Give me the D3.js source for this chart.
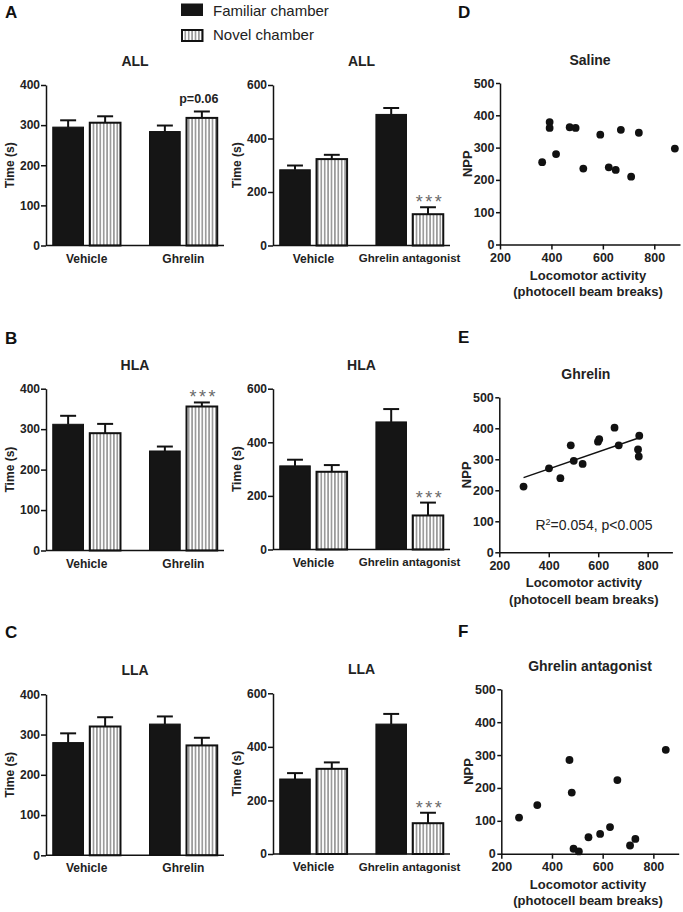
<!DOCTYPE html>
<html><head><meta charset="utf-8">
<script src="https://cdn.jsdelivr.net/npm/d3@7"></script>
<style>
body{margin:0;background:#fff}
svg{display:block}
text{font-family:"Liberation Sans",Arial,Helvetica,sans-serif}
</style>
</head><body>
<svg id="chart" width="683" height="912"></svg>
<script>
// ---------------- DATA ----------------
const seriesNames = ["Familiar chamber", "Novel chamber"];
const groupsGhrelin = ["Vehicle", "Ghrelin"];
const groupsAntag = ["Vehicle", "Ghrelin antagonist"];
const yTicksGhrelin = [0, 100, 200, 300, 400];
const yTicksAntag = [0, 200, 400, 600];

// ALL
const allGhrelinFamiliar = [295, 284];
const allGhrelinFamiliarSem = [17, 15];
const allGhrelinNovel = [306, 318];
const allGhrelinNovelSem = [16, 16];
const allAntagFamiliar = [283, 490];
const allAntagFamiliarSem = [16, 24];
const allAntagNovel = [323, 117];
const allAntagNovelSem = [16, 26];
// HLA
const hlaGhrelinFamiliar = [312, 246];
const hlaGhrelinFamiliarSem = [21, 11];
const hlaGhrelinNovel = [290, 356];
const hlaGhrelinNovelSem = [23, 10];
const hlaAntagFamiliar = [312, 476];
const hlaAntagFamiliarSem = [23, 48];
const hlaAntagNovel = [290, 127];
const hlaAntagNovelSem = [25, 48];
// LLA
const llaGhrelinFamiliar = [280, 326];
const llaGhrelinFamiliarSem = [23, 19];
const llaGhrelinNovel = [320, 273];
const llaGhrelinNovelSem = [23, 19];
const llaAntagFamiliar = [280, 485];
const llaAntagFamiliarSem = [22, 38];
const llaAntagNovel = [318, 115];
const llaAntagNovelSem = [24, 39];

// Scatter: locomotor activity vs NPP
const scatterXTicks = [200, 400, 600, 800];
const scatterYTicks = [0, 100, 200, 300, 400, 500];
const salineX = [364, 393, 393, 418, 471, 494, 524, 590, 623, 650, 670, 710, 740, 880];
const salineY = [255, 379, 361, 280, 363, 361, 235, 340, 239, 231, 355, 210, 346, 297];
const ghrelinX = [298, 401, 447, 489, 501, 537, 599, 604, 666, 683, 761, 764, 766];
const ghrelinY = [212, 271, 239, 345, 295, 285, 357, 365, 402, 345, 332, 309, 376];
const antagX = [270, 342, 469, 478, 485, 506, 544, 590, 629, 658, 708, 729, 849];
const antagY = [110, 148, 285, 186, 15, 7, 50, 60, 81, 224, 25, 45, 316];

// ---------------- DRAW ----------------
const svg = d3.select("#chart");
const FONT = '"Liberation Sans",Arial,Helvetica,sans-serif';

const defs = svg.append("defs");
const pat = defs.append("pattern").attr("id", "hatch")
  .attr("patternUnits", "userSpaceOnUse").attr("width", 3.4).attr("height", 10);
pat.append("rect").attr("width", 3.4).attr("height", 10).attr("fill", "#fff");
pat.append("line").attr("x1", 1.7).attr("x2", 1.7).attr("y1", 0).attr("y2", 10)
  .attr("stroke", "#555").attr("stroke-width", 1);

function styleAxis(g, fs) {
  g.selectAll("path.domain").attr("stroke", "#111").attr("stroke-width", 1.5);
  g.selectAll(".tick line").attr("stroke", "#111").attr("stroke-width", 1.5);
  g.selectAll("text").attr("font-family", FONT).attr("font-weight", "bold")
    .attr("font-size", fs).attr("fill", "#222");
}

function panelLetter(txt, x, y) {
  svg.append("text").attr("x", x).attr("y", y).text(txt)
    .attr("font-size", 17).attr("font-weight", "bold").attr("fill", "#111");
}

function barPanel(cfg, groups, fam, famSem, nov, novSem, title, yMax, yTicks, annot) {
  const y = d3.scaleLinear().domain([0, yMax]).range([cfg.y0, cfg.yTop]);
  const x0 = d3.scaleBand().domain(groups).range([cfg.L, cfg.R])
    .paddingInner(0.3).paddingOuter(0.07);
  const x1 = d3.scaleBand().domain(seriesNames).range([0, x0.bandwidth()]).paddingInner(0.17);
  const g = svg.append("g");
  const rows = [];
  groups.forEach((grp, i) => {
    rows.push({grp, s: seriesNames[0], v: fam[i], e: famSem[i]});
    rows.push({grp, s: seriesNames[1], v: nov[i], e: novSem[i]});
  });
  const bw = x1.bandwidth();
  const cap = bw * 0.26;
  rows.forEach(r => {
    const cx = x0(r.grp) + x1(r.s) + bw / 2;
    g.append("line").attr("x1", cx).attr("x2", cx).attr("y1", y(r.v)).attr("y2", y(r.v + r.e))
      .attr("stroke", "#111").attr("stroke-width", 2);
    g.append("line").attr("x1", cx - cap).attr("x2", cx + cap).attr("y1", y(r.v + r.e)).attr("y2", y(r.v + r.e))
      .attr("stroke", "#111").attr("stroke-width", 2);
  });
  g.selectAll("rect.bar").data(rows).join("rect").attr("class", "bar")
    .attr("x", d => x0(d.grp) + x1(d.s))
    .attr("width", bw)
    .attr("y", d => y(d.v))
    .attr("height", d => y(0) - y(d.v))
    .attr("fill", d => d.s === seriesNames[0] ? "#151515" : "url(#hatch)")
    .attr("stroke", "#111")
    .attr("stroke-width", d => d.s === seriesNames[0] ? 1 : 2);

  const ya = g.append("g").attr("transform", `translate(${cfg.L},0)`)
    .call(d3.axisLeft(y).tickValues(yTicks).tickSize(5).tickSizeOuter(0).tickPadding(1));
  styleAxis(ya, 12);
  const xa = g.append("g").attr("transform", `translate(0,${cfg.y0})`)
    .call(d3.axisBottom(x0).tickSize(0).tickSizeOuter(0).tickPadding(8.5));
  xa.select("path.domain").attr("d", `M${cfg.L},0H${cfg.R}`);
  styleAxis(xa, 12);
  xa.selectAll(".tick text").filter(d => d.length > 10).attr("font-size", 11.5);

  g.append("text").attr("x", (cfg.L + cfg.R) / 2).attr("y", cfg.yTop - 19)
    .attr("text-anchor", "middle").attr("font-size", 14).attr("font-weight", "bold")
    .attr("fill", "#222").text(title);
  g.append("text")
    .attr("transform", `translate(${cfg.L - 36},${(cfg.y0 + cfg.yTop) / 2}) rotate(-90)`)
    .attr("text-anchor", "middle").attr("dy", "0.35em").attr("font-size", 12)
    .attr("font-weight", "bold").attr("fill", "#222").text("Time (s)");

  if (annot) {
    const idx = groups.indexOf(annot.group);
    const v = annot.series === 0 ? fam[idx] + famSem[idx] : nov[idx] + novSem[idx];
    const cx = x0(annot.group) + x1(seriesNames[annot.series]) + bw / 2;
    if (annot.text === "***") {
      g.append("text").attr("x", cx + 2).attr("y", y(v) - 9 + 10)
        .attr("text-anchor", "middle").attr("font-size", 18).attr("letter-spacing", 2.5)
        .attr("fill", "#6a6a6a").text("***");
    } else {
      g.append("text").attr("x", cx - 3).attr("y", y(v) - 8)
        .attr("text-anchor", "middle").attr("font-size", 12.5).attr("font-weight", "bold")
        .attr("fill", "#222").text(annot.text);
    }
  }
}

function scatterPanel(cfg, xs, ys, title, fit) {
  const x = d3.scaleLinear().domain([200, 900]).range([cfg.xL, cfg.xR]);
  const y = d3.scaleLinear().domain([0, 500]).range([cfg.y0, cfg.yTop]);
  const g = svg.append("g");
  const ya = g.append("g").attr("transform", `translate(${cfg.xL},0)`)
    .call(d3.axisLeft(y).tickValues(scatterYTicks).tickSize(4).tickSizeOuter(0).tickPadding(1.5));
  styleAxis(ya, 12.5);
  const xa = g.append("g").attr("transform", `translate(0,${cfg.y0})`)
    .call(d3.axisBottom(x).tickValues(scatterXTicks).tickFormat(d3.format("d"))
      .tickSize(5).tickSizeOuter(0).tickPadding(3.5));
  styleAxis(xa, 12.5);

  const pts = xs.map((v, i) => [v, ys[i]]);
  if (fit) {
    const mx = d3.mean(xs), my = d3.mean(ys);
    const sxy = d3.sum(pts, p => (p[0] - mx) * (p[1] - my));
    const sxx = d3.sum(pts, p => (p[0] - mx) ** 2);
    const b = sxy / sxx, a = my - b * mx;
    const [x1, x2] = d3.extent(xs);
    g.append("line").attr("x1", x(x1)).attr("x2", x(x2))
      .attr("y1", y(a + b * x1)).attr("y2", y(a + b * x2))
      .attr("stroke", "#111").attr("stroke-width", 1.5);
  }
  g.selectAll("circle").data(pts).join("circle")
    .attr("cx", d => x(d[0])).attr("cy", d => y(d[1])).attr("r", 3.9).attr("fill", "#111");

  const cx = (cfg.xL + cfg.xR) / 2;
  g.append("text").attr("x", cx).attr("y", cfg.yTop - 18.5).attr("text-anchor", "middle")
    .attr("font-size", 14).attr("font-weight", "bold").attr("fill", "#222").text(title);
  g.append("text")
    .attr("transform", `translate(${cfg.xL - 33},${(cfg.y0 + cfg.yTop) / 2}) rotate(-90)`)
    .attr("text-anchor", "middle").attr("dy", "0.35em").attr("font-size", 13)
    .attr("font-weight", "bold").attr("fill", "#222").text("NPP");
  g.append("text").attr("x", cx - 2).attr("y", cfg.y0 + 35).attr("text-anchor", "middle")
    .attr("font-size", 13).attr("font-weight", "bold").attr("fill", "#222").text("Locomotor activity");
  g.append("text").attr("x", cx - 2).attr("y", cfg.y0 + 51.5).attr("text-anchor", "middle")
    .attr("font-size", 13).attr("font-weight", "bold").attr("fill", "#222").text("(photocell beam breaks)");
  if (cfg.note) {
    const t = g.append("text").attr("x", cfg.note[0]).attr("y", cfg.note[1]).attr("text-anchor", "middle")
      .attr("font-size", 14).attr("fill", "#222");
    t.append("tspan").text("R");
    t.append("tspan").attr("dy", -5).attr("font-size", 9).text("2");
    t.append("tspan").attr("dy", 5).text("=0.054, p<0.005");
  }
}

// Legend
svg.append("rect").attr("x", 181).attr("y", 3.5).attr("width", 22).attr("height", 12.5).attr("fill", "#151515");
svg.append("text").attr("x", 213).attr("y", 15.5).attr("font-size", 15).attr("fill", "#222").text(seriesNames[0]);
svg.append("rect").attr("x", 182).attr("y", 30).attr("width", 20.5).attr("height", 11)
  .attr("fill", "url(#hatch)").attr("stroke", "#111").attr("stroke-width", 2);
svg.append("text").attr("x", 213).attr("y", 39.5).attr("font-size", 15).attr("fill", "#222").text(seriesNames[1]);

panelLetter("A", 5, 18);
panelLetter("B", 5, 344);
panelLetter("C", 5, 638);
panelLetter("D", 458, 18);
panelLetter("E", 458, 343);
panelLetter("F", 458, 637);

// Row A
barPanel({L: 46, R: 224, y0: 245.5, yTop: 85}, groupsGhrelin,
  allGhrelinFamiliar, allGhrelinFamiliarSem, allGhrelinNovel, allGhrelinNovelSem,
  "ALL", 400, yTicksGhrelin, {group: "Ghrelin", series: 1, text: "p=0.06"});
barPanel({L: 273, R: 450, y0: 245.5, yTop: 85}, groupsAntag,
  allAntagFamiliar, allAntagFamiliarSem, allAntagNovel, allAntagNovelSem,
  "ALL", 600, yTicksAntag, {group: "Ghrelin antagonist", series: 1, text: "***"});
// Row B
barPanel({L: 46, R: 224, y0: 550.5, yTop: 388.7}, groupsGhrelin,
  hlaGhrelinFamiliar, hlaGhrelinFamiliarSem, hlaGhrelinNovel, hlaGhrelinNovelSem,
  "HLA", 400, yTicksGhrelin, {group: "Ghrelin", series: 1, text: "***"});
barPanel({L: 273, R: 450, y0: 549.5, yTop: 388.7}, groupsAntag,
  hlaAntagFamiliar, hlaAntagFamiliarSem, hlaAntagNovel, hlaAntagNovelSem,
  "HLA", 600, yTicksAntag, {group: "Ghrelin antagonist", series: 1, text: "***"});
// Row C
barPanel({L: 46, R: 224, y0: 855.3, yTop: 694.3}, groupsGhrelin,
  llaGhrelinFamiliar, llaGhrelinFamiliarSem, llaGhrelinNovel, llaGhrelinNovelSem,
  "LLA", 400, yTicksGhrelin, null);
barPanel({L: 273, R: 450, y0: 854, yTop: 693.3}, groupsAntag,
  llaAntagFamiliar, llaAntagFamiliarSem, llaAntagNovel, llaAntagNovelSem,
  "LLA", 600, yTicksAntag, {group: "Ghrelin antagonist", series: 1, text: "***"});

// Scatter panels
scatterPanel({xL: 500, xR: 680, y0: 244.5, yTop: 83}, salineX, salineY, "Saline", false);
scatterPanel({xL: 499.3, xR: 672.4, y0: 552.3, yTop: 397.3, note: [594, 530]}, ghrelinX, ghrelinY, "Ghrelin", true);
scatterPanel({xL: 501.3, xR: 678.7, y0: 853.7, yTop: 689.3}, antagX, antagY, "Ghrelin antagonist", false);
</script>
</body></html>
